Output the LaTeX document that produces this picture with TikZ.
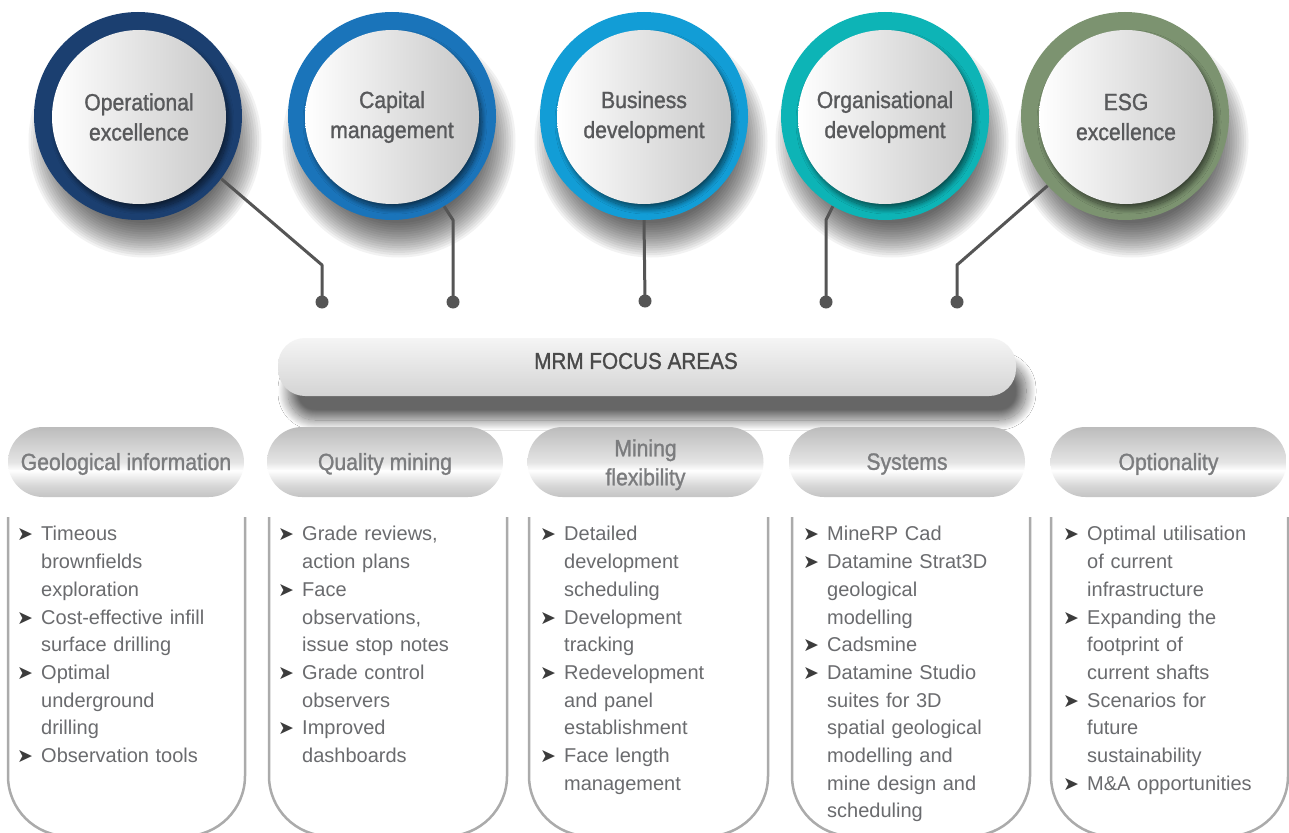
\documentclass[tikz,border=0pt]{standalone}
\usepackage{fontspec}
\setmainfont{Liberation Sans}
\newfontfamily\condfnt[FakeStretch=0.9,FakeBold=1.2]{Liberation Sans}
\newfontfamily\bulletfnt{DejaVu Sans}
\usetikzlibrary{shadows.blur}
\definecolor{ringA}{HTML}{1B3F70}
\definecolor{ringB}{HTML}{1A74BA}
\definecolor{ringC}{HTML}{129DD6}
\definecolor{ringD}{HTML}{0DB4B6}
\definecolor{ringE}{HTML}{7C9370}
\definecolor{headtxt}{HTML}{58595B}
\definecolor{bartxt}{HTML}{4A4A4A}
\definecolor{pilltxt}{HTML}{7B7C7E}
\definecolor{listtxt}{HTML}{6A6B6E}
\definecolor{bulletcol}{HTML}{3C3C3C}
\definecolor{linegray}{HTML}{ABABAB}
\definecolor{conn}{HTML}{555555}
\definecolor{pillTop}{HTML}{BCBCBC}
\definecolor{pillMid}{HTML}{E4E4E4}
\definecolor{pillLow}{HTML}{D6D6D6}
\definecolor{pillBot}{HTML}{C4C4C4}
\pgfdeclareverticalshading{pillshade}{100bp}{color(0bp)=(pillBot); color(25bp)=(pillBot); color(33bp)=(pillLow); color(44bp)=(white); color(50bp)=(pillMid); color(75bp)=(pillTop); color(100bp)=(pillTop)}
\newcommand\litem[1]{\par\noindent\hangindent=24pt\hangafter=1\makebox[24pt][l]{\color{bulletcol}\bulletfnt\fontsize{19}{19}\selectfont\char"27A4}#1\par}
\newcommand\circshadow[2]{\foreach \k in {0,...,15}{\fill[black, opacity=0.05] (#1,#2) circle[radius={(82+2.3*\k)*1pt}];}}
\tikzset{
  ring/.style={circle, minimum size=208pt, inner sep=0pt},
  disc/.style={circle, minimum size=174pt, inner sep=0pt, left color=white, right color=black!22,
    blur shadow={shadow xshift=3pt, shadow yshift=-5pt, shadow blur radius=5pt, shadow blur steps=20, shadow opacity=55},
    font=\condfnt\fontsize{23.5}{30}\selectfont, text=headtxt, align=center},
  pill/.style={rounded corners=35pt, minimum width=236pt, minimum height=70pt, inner sep=0pt,
    shading=pillshade, font=\condfnt\fontsize{23.5}{29}\selectfont, text=pilltxt, align=center},
  bar/.style={rounded corners=27pt, minimum width=738pt, minimum height=58pt, inner sep=0pt,
    top color=white!96!black, bottom color=black!17,
    blur shadow={shadow xshift=10pt, shadow yshift=-24pt, shadow blur radius=10pt, shadow blur steps=30, shadow opacity=60}},
  bartext/.style={font=\condfnt\fontsize{23}{28}\selectfont, text=bartxt, inner sep=0pt},
  conline/.style={draw=conn, line width=3pt, line join=round},
  dotnode/.style={circle, fill=conn, minimum size=13pt, inner sep=0pt},
  boxline/.style={draw=linegray, line width=2.5pt, rounded corners=60pt},
  listtext/.style={anchor=north west, inner sep=0pt, text width=222pt, align=left,
    font=\fontsize{20}{27.7}\selectfont, text=listtxt}
}
\newcommand\pilltxt[1]{\raisebox{-2pt}[\height][\depth]{#1}}
\begin{document}
\begin{tikzpicture}[x=1pt,y=-1pt]
\useasboundingbox (0,0) rectangle (1289,832);
\fill[white] (0,0) rectangle (1289,832);

% circle shadows
\circshadow{145}{141}
\circshadow{399}{141}
\circshadow{651}{141}
\circshadow{892}{141}
\circshadow{1132}{141}

% circles
\node[ring, fill=ringA] (o1) at (138,116) {};
\node[ring, fill=ringB] (o2) at (392,116) {};
\node[ring, fill=ringC] (o3) at (644,116) {};
\node[ring, fill=ringD] (o4) at (885,116) {};
\node[ring, fill=ringE] (o5) at (1125,116) {};
\node[disc] (c1) at (139,117) {Operational\\excellence};
\node[disc] (c2) at (392,117) {Capital\\management};
\node[disc] (c3) at (644,117) {Business\\development};
\node[disc] (c4) at (885,117) {Organisational\\development};
\node[disc] (c5) at (1126,117) {ESG\\excellence};

% connectors
\node[dotnode] (d1) at (322,302) {};
\node[dotnode] (d2) at (453,302) {};
\node[dotnode] (d3) at (645,301) {};
\node[dotnode] (d4) at (826,302) {};
\node[dotnode] (d5) at (957,302) {};
\coordinate (b1) at (322,265);
\coordinate (b2) at (453,220);
\coordinate (b4) at (826,220);
\coordinate (b5) at (957,265);
\draw[conline] (o1.-37) -- (b1) -- (d1.center);
\draw[conline] (o2.-60) -- (b2) -- (d2.center);
\draw[conline] (o3.south) -- (d3.center);
\draw[conline] (o4.-120) -- (b4) -- (d4.center);
\draw[conline] (o5.-138) -- (b5) -- (d5.center);

% focus bar
\node[bar] (mrm) at (647,367) {};
\node[bartext] (mrmtext) at (636,361) {MRM FOCUS AREAS};

% pills
\node[pill] (p1) at (126,462) {\pilltxt{Geological information}};
\node[pill] (p2) at (385,462) {\pilltxt{Quality mining}};
\node[pill] (p3) at (645.5,462) {\raisebox{-3pt}[\height][\depth]{\begin{tabular}{@{}c@{}}Mining\\flexibility\end{tabular}}};
\node[pill] (p4) at (907,462) {\pilltxt{Systems}};
\node[pill] (p5) at (1168.5,462) {\pilltxt{Optionality}};

% list boxes
\draw[boxline] (8,517) -- (8,836) -- (245,836) -- (245,517);
\draw[boxline] (269,517) -- (269,836) -- (507,836) -- (507,517);
\draw[boxline] (529,517) -- (529,836) -- (768,836) -- (768,517);
\draw[boxline] (792,517) -- (792,836) -- (1030,836) -- (1030,517);
\draw[boxline] (1051,517) -- (1051,836) -- (1288,836) -- (1288,517);

% lists
\node[listtext] (l1) at (17,513) {%
\litem{Timeous\newline brownfields\newline exploration}
\litem{Cost-effective infill\newline surface drilling}
\litem{Optimal\newline underground\newline drilling}
\litem{Observation tools}};
\node[listtext] (l2) at (278,513) {%
\litem{Grade reviews,\newline action plans}
\litem{Face\newline observations,\newline issue stop notes}
\litem{Grade control\newline observers}
\litem{Improved\newline dashboards}};
\node[listtext] (l3) at (540,513) {%
\litem{Detailed\newline development\newline scheduling}
\litem{Development\newline tracking}
\litem{Redevelopment\newline and panel\newline establishment}
\litem{Face length\newline management}};
\node[listtext] (l4) at (803,513) {%
\litem{MineRP Cad}
\litem{Datamine Strat3D\newline geological\newline modelling}
\litem{Cadsmine}
\litem{Datamine Studio\newline suites for 3D\newline spatial geological\newline modelling and\newline mine design and\newline scheduling}};
\node[listtext] (l5) at (1063,513) {%
\litem{Optimal utilisation\newline of current\newline infrastructure}
\litem{Expanding the\newline footprint of\newline current shafts}
\litem{Scenarios for\newline future\newline sustainability}
\litem{M\&A opportunities}};
\end{tikzpicture}
\end{document}
